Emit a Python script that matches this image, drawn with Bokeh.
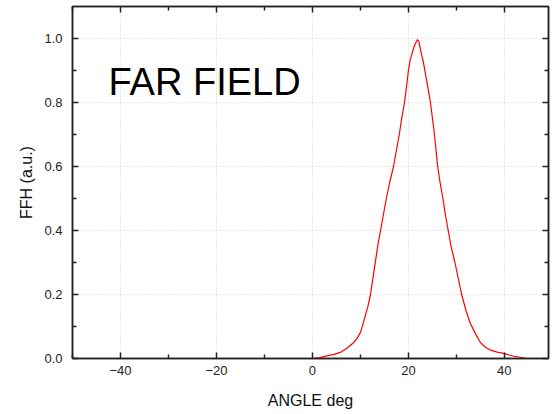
from bokeh.plotting import figure
from bokeh.models import (Range1d, LinearAxis, FixedTicker, Label,
                          NumeralTickFormatter, CustomLabelingPolicy)
from bokeh.embed import file_html
from bokeh.resources import INLINE

angle = [0, 1.5, 3, 4.5, 5.8, 7.2, 8.6, 9.3, 10, 10.5, 11, 11.6, 12.1, 12.7, 13.3,
         13.7, 14.2, 14.8, 15.4, 16.1, 16.9, 17.5, 18.1, 18.6, 19.2, 19.7, 20.0,
         20.4, 20.8, 21.2, 21.5, 21.9, 22.2, 22.5, 23.2, 23.9, 24.2, 24.6, 25.3,
         25.7, 26.1, 26.6, 27.2, 27.7, 28.3, 28.9, 29.7, 30.4, 31.1, 32.0, 32.9,
         34.0, 35.0, 36.0, 37.1, 38.5, 39.9, 41.0, 42.0, 43.3, 44.7]
ffh = [0.0, 0.003, 0.008, 0.013, 0.019, 0.032, 0.05, 0.063, 0.081, 0.105, 0.133,
       0.165, 0.20, 0.26, 0.32, 0.36, 0.40, 0.45, 0.50, 0.55, 0.60, 0.65, 0.70,
       0.75, 0.80, 0.86, 0.90, 0.935, 0.955, 0.975, 0.985, 0.997, 0.99, 0.967,
       0.92, 0.86, 0.835, 0.80, 0.717, 0.66, 0.60, 0.55, 0.50, 0.45, 0.40, 0.35,
       0.30, 0.25, 0.20, 0.15, 0.11, 0.077, 0.05, 0.036, 0.026, 0.02, 0.016,
       0.011, 0.007, 0.004, 0.0]

x_ticks = [-40, -20, 0, 20, 40]
x_minor = [-50, -30, -10, 10, 30]
y_ticks = [0.0, 0.2, 0.4, 0.6, 0.8, 1.0]
y_minor = [0.1, 0.3, 0.5, 0.7, 0.9]
title_text = "FAR FIELD"
x_label = "ANGLE deg"
y_label = "FFH (a.u.)"

FONT = "Liberation Sans"

p = figure(frame_width=476, frame_height=352, output_backend="svg",
           toolbar_location=None, x_range=Range1d(-50, 49.2),
           y_range=Range1d(0, 1.1), min_border_left=72, min_border_top=6,
           min_border_right=6, min_border_bottom=8)
p.background_fill_color = "white"
p.border_fill_color = "white"
p.outline_line_color = "#222222"
p.outline_line_width = 1.5

p.line(angle, ffh, line_color="red", line_width=1.2)

xt = FixedTicker(ticks=x_ticks, minor_ticks=x_minor)
yt = FixedTicker(ticks=y_ticks, minor_ticks=y_minor)


def style_axis(ax, size="13px"):
    ax.axis_line_color = "#222222"
    ax.axis_line_width = 1.5
    ax.major_tick_in = 6
    ax.major_tick_out = 0
    ax.minor_tick_in = 4
    ax.minor_tick_out = 0
    ax.major_tick_line_width = 1.5
    ax.minor_tick_line_width = 1.5
    ax.major_tick_line_color = "#222222"
    ax.minor_tick_line_color = "#222222"
    ax.major_label_text_font = FONT
    ax.major_label_text_font_size = size
    ax.major_label_text_color = "#222222"
    ax.axis_label_text_font = FONT
    ax.axis_label_text_font_size = "16px"
    ax.axis_label_text_font_style = "normal"
    ax.axis_label_text_color = "#111111"


xa = p.xaxis[0]
xa.ticker = xt
xa.axis_label = x_label
xa.major_label_standoff = 7
xa.axis_label_standoff = 14
style_axis(xa)

ya = p.yaxis[0]
ya.ticker = yt
ya.formatter = NumeralTickFormatter(format="0.0")
ya.axis_label = y_label
ya.major_label_standoff = 10
ya.axis_label_standoff = 6
style_axis(ya)

top = LinearAxis(ticker=FixedTicker(ticks=x_ticks, minor_ticks=x_minor),
                 major_label_policy=CustomLabelingPolicy(code="return false"))
style_axis(top, size="1px")
top.major_label_standoff = 0
p.add_layout(top, "above")

right = LinearAxis(ticker=FixedTicker(ticks=y_ticks, minor_ticks=y_minor),
                   major_label_policy=CustomLabelingPolicy(code="return false"))
style_axis(right, size="1px")
right.major_label_standoff = 0
p.add_layout(right, "right")

p.xgrid.ticker = xt
p.ygrid.ticker = yt
for g in (p.xgrid[0], p.ygrid[0]):
    g.grid_line_color = "#d0d0d0"
    g.grid_line_dash = "1 2"
    g.grid_line_width = 1

p.add_layout(Label(x=-42.5, y=0.863, text=title_text, text_font=FONT,
                   text_font_size="38px", text_color="black",
                   text_baseline="alphabetic"))

open("out.html", "w").write(file_html(p, INLINE))
